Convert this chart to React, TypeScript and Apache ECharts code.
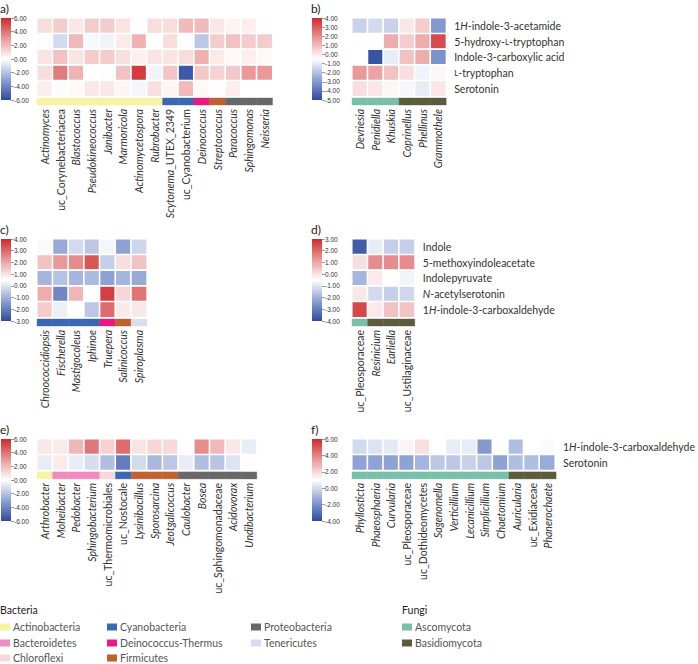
import React, { useEffect, useRef } from "react";
import * as echarts from "echarts";

// ---------- data ----------
const rowsAB = ["1H-indole-3-acetamide", "5-hydroxy-L-tryptophan", "Indole-3-carboxylic acid", "L-tryptophan", "Serotonin"];
const rowsCD = ["Indole", "5-methoxyindoleacetate", "Indolepyruvate", "N-acetylserotonin", "1H-indole-3-carboxaldehyde"];
const rowsEF = ["1H-indole-3-carboxaldehyde", "Serotonin"];

const colsA = ["Actinomyces", "uc_Corynebacteriacea", "Blastococcus", "Pseudokineococcus", "Janibacter", "Marmoricola", "Actinomycetospora", "Rubrobacter", "Scytonema_UTEX_2349", "uc_Cyanobacterium", "Deinococcus", "Streptococcus", "Paracoccus", "Sphingomonas", "Neisseria"];
const phylaA = ["Actinobacteria", "Actinobacteria", "Actinobacteria", "Actinobacteria", "Actinobacteria", "Actinobacteria", "Actinobacteria", "Actinobacteria", "Cyanobacteria", "Cyanobacteria", "Deinococcus-Thermus", "Firmicutes", "Proteobacteria", "Proteobacteria", "Proteobacteria"];
const valuesA = [
  [1.0, 1.5, 0.7, 1.5, 1.5, 0.8, 0.0, 1.0, 1.0, 2.0, 2.0, 0.7, 0.3, 0.5, 0.1],
  [0.1, -1.2, 2.0, -0.2, -0.4, 0.6, 2.2, 0.0, 1.0, 0.1, -1.8, 1.5, 1.8, 1.5, 1.5],
  [0.8, 1.8, 0.8, 1.5, 1.5, 0.9, 0.4, 0.8, 0.8, 1.0, 2.3, 0.6, 0.2, 0.5, 0.2],
  [1.0, 3.8, 2.2, 0.0, -0.05, 1.8, 5.5, -0.4, 1.7, -5.5, 1.6, 1.3, 1.6, 3.0, 3.0],
  [0.5, -0.1, 0.2, 0.7, 0.7, 0.3, -0.3, 0.9, 0.3, 2.0, 0.2, 0.1, 0.5, 0.0, 0.0],
];
const rangeA = [-6, 6, 2];

const colsB = ["Devriesia", "Penidiella", "Khuskia", "Coprinellus", "Phellinus", "Grammothele"];
const phylaB = ["Ascomycota", "Ascomycota", "Ascomycota", "Basidiomycota", "Basidiomycota", "Basidiomycota"];
const valuesB = [
  [-1.6, -1.4, -1.6, 0.0, 0.6, -3.0],
  [-0.5, -0.45, 1.3, 0.6, 1.3, 3.3],
  [-0.5, -4.8, -0.95, 0.85, 1.3, -3.2],
  [1.75, 1.5, 0.85, 0.2, -0.8, -0.3],
  [0.2, 0.05, -0.3, -0.7, -0.95, 0.05],
];
const rangeB = [-5, 4, 1];

const colsC = ["Chroococcidiopsis", "Fischerella", "Mastigocoleus", "Iphinoe", "Truepera", "Salinicoccus", "Spiroplasma"];
const phylaC = ["Cyanobacteria", "Cyanobacteria", "Cyanobacteria", "Cyanobacteria", "Deinococcus-Thermus", "Firmicutes", "Tenericutes"];
const valuesC = [
  [0.4, -1.1, -0.2, -0.55, 0.33, -1.25, -0.27],
  [1.55, 2.25, 2.45, 3.3, -0.4, 1.05, 1.55],
  [-0.9, -0.65, -0.9, -0.8, -1.25, -0.9, -1.1],
  [1.9, -1.8, 1.75, 0.5, 3.65, 1.2, 2.8],
  [1.4, 0.2, 0.5, -0.55, 2.95, 0.85, 0.9],
];
const rangeC = [-3, 4, 1];

const colsD = ["uc_Pleosporaceae", "Resinicium", "Earliella", "uc_Ustilaginaceae"];
const phylaD = ["Ascomycota", "Basidiomycota", "Basidiomycota", "Basidiomycota"];
const valuesD = [
  [-3.65, -0.85, -1.4, -1.4],
  [0.05, 1.45, 1.45, 1.45],
  [-1.9, -0.15, -0.5, -0.7],
  [-0.1, -1.2, -1.4, -1.25],
  [2.5, -0.15, 0.55, 0.5],
];
const rangeD = [-4, 3, 1];

const colsE = ["Arthrobacter", "Moheibacter", "Pedobacter", "Sphingobacterium", "uc_Thermomicrobiales", "uc_Nostocale", "Lysinibacillus", "Sporosarcina", "Jeotgalicoccus", "Caulobacter", "Bosea", "uc_Sphingomonadaceae", "Acidovorax", "Undibacterium"];
const phylaE = ["Actinobacteria", "Bacteroidetes", "Bacteroidetes", "Bacteroidetes", "Chloroflexi", "Cyanobacteria", "Firmicutes", "Firmicutes", "Firmicutes", "Proteobacteria", "Proteobacteria", "Proteobacteria", "Proteobacteria", "Proteobacteria"];
const valuesE = [
  [0.7, 0.6, 2.1, 3.9, 1.3, 4.2, 0.8, 1.2, 1.1, 0.1, 3.3, 2.0, 0.7, -0.6],
  [-0.6, 0.6, -0.6, -1.1, -2.1, -4.3, -1.2, -2.3, -1.8, -0.6, -2.1, -1.9, -0.9, 0.1],
];
const rangeE = [-6, 6, 2];

const colsF = ["Phyllosticta", "Phaeosphaeria", "Curvularia", "uc_Pleosporaceae", "uc_Dothideomycetes", "Sagenomella", "Verticillium", "Lecanicillium", "Simplicillium", "Chaetomium", "Auricularia", "uc_Exidiaceae", "Phanerochaete"];
const phylaF = ["Ascomycota", "Ascomycota", "Ascomycota", "Ascomycota", "Ascomycota", "Ascomycota", "Ascomycota", "Ascomycota", "Ascomycota", "Ascomycota", "Basidiomycota", "Basidiomycota", "Basidiomycota"];
const valuesF = [
  [0.0, 0.25, 0.4, 1.25, 1.75, 1.0, 0.5, 0.5, -1.75, 1.0, -0.75, 1.0, 0.9],
  [-1.5, -1.5, -1.5, -1.5, -1.0, -0.5, -0.5, -0.25, -0.5, -1.5, -0.75, -0.75, -1.25],
];
const rangeF = [-4, 6, 2];

const legendBacteria = [
  ["Actinobacteria", "Bacteroidetes", "Chloroflexi"],
  ["Cyanobacteria", "Deinococcus-Thermus", "Firmicutes"],
  ["Proteobacteria", "Tenericutes"],
];
const legendFungi = ["Ascomycota", "Basidiomycota"];

// ---------- styles ----------
const PHYLUM_COLORS: Record<string, string> = {
  "Actinobacteria": "#f6f3a2",
  "Bacteroidetes": "#f08bbf",
  "Chloroflexi": "#f8d8da",
  "Cyanobacteria": "#3a68b3",
  "Deinococcus-Thermus": "#e81a80",
  "Firmicutes": "#bf6230",
  "Proteobacteria": "#686868",
  "Tenericutes": "#d7deef",
  "Ascomycota": "#79bfa9",
  "Basidiomycota": "#5c5c3c",
};
const CMAP = ["#2e4b9e", "#8ea2d4", "#ffffff", "#ea9898", "#cd2a2c"];
const CELL = 15.7;
const FONT = "Lato, 'Noto Sans', sans-serif";

function colLabel(name: string) {
  if (name.startsWith("uc_")) return `{n|${name}}`;
  const k = name.indexOf("_");
  if (k > 0) return `{i|${name.slice(0, k)}}{n|${name.slice(k)}}`;
  return `{i|${name}}`;
}

function rowLabel(name: string) {
  if (name.startsWith("1H-")) return `{n|1}{i|H}{n|${name.slice(2)}}`;
  if (name.startsWith("N-")) return `{i|N}{n|${name.slice(1)}}`;
  const m = name.indexOf("L-");
  if (m >= 0 && (m === 0 || name[m - 1] === "-")) {
    const pre = name.slice(0, m);
    return `${pre ? `{n|${pre}}` : ""}{sc|L}{n|${name.slice(m + 1)}}`;
  }
  return `{n|${name}}`;
}

const panels = [
  { letter: "a)", cols: colsA, rows: rowsAB, values: valuesA, phyla: phylaA, range: rangeA, left: 37, top: 18, cb: 1, rowLabels: false },
  { letter: "b)", cols: colsB, rows: rowsAB, values: valuesB, phyla: phylaB, range: rangeB, left: 352, top: 18, cb: 312, rowLabels: true },
  { letter: "c)", cols: colsC, rows: rowsCD, values: valuesC, phyla: phylaC, range: rangeC, left: 37, top: 239, cb: 1, rowLabels: false },
  { letter: "d)", cols: colsD, rows: rowsCD, values: valuesD, phyla: phylaD, range: rangeD, left: 352, top: 239, cb: 312, rowLabels: true },
  { letter: "e)", cols: colsE, rows: rowsEF, values: valuesE, phyla: phylaE, range: rangeE, left: 37, top: 439, cb: 1, rowLabels: false },
  { letter: "f)", cols: colsF, rows: rowsEF, values: valuesF, phyla: phylaF, range: rangeF, left: 352, top: 439, cb: 312, rowLabels: true },
];

function buildOption() {
  const grid: any[] = [];
  const xAxis: any[] = [];
  const yAxis: any[] = [];
  const series: any[] = [];
  const visualMap: any[] = [];
  const graphic: any[] = [];

  panels.forEach((p) => {
    const nC = p.cols.length;
    const nR = p.rows.length;
    const w = nC * CELL;
    const h = nR * CELL;
    const [min, max, interval] = p.range;
    const g0 = grid.length;
    grid.push({ left: p.left, top: p.top, width: w, height: h });
    grid.push({ left: p.left, top: p.top + h + 1.5, width: w, height: 7 });
    grid.push({ left: p.cb, top: p.top, width: 10, height: 82 });

    xAxis.push({ gridIndex: g0, type: "category", data: p.cols, show: false });
    yAxis.push({
      gridIndex: g0, type: "category", data: p.rows, inverse: true, position: "right",
      axisLine: { show: false }, axisTick: { show: false }, splitLine: { show: false },
      axisLabel: {
        show: p.rowLabels, margin: 8, formatter: (v: string) => rowLabel(v),
        rich: {
          n: { fontFamily: FONT, fontSize: 10.5, color: "#333" },
          i: { fontFamily: FONT, fontSize: 10.5, color: "#333", fontStyle: "italic" },
          sc: { fontFamily: FONT, fontSize: 8, color: "#333" },
        },
      },
    });
    xAxis.push({
      gridIndex: g0 + 1, type: "category", data: p.cols,
      axisLine: { show: false }, axisTick: { show: false },
      axisLabel: {
        rotate: 90, interval: 0, margin: 4, formatter: (v: string) => colLabel(v),
        rich: {
          n: { fontFamily: FONT, fontSize: 10.5, color: "#333" },
          i: { fontFamily: FONT, fontSize: 10.5, color: "#333", fontStyle: "italic" },
        },
      },
    });
    yAxis.push({ gridIndex: g0 + 1, type: "category", data: ["s"], show: false });
    xAxis.push({ gridIndex: g0 + 2, type: "category", data: ["c"], show: false });
    yAxis.push({
      gridIndex: g0 + 2, type: "value", min, max, interval, position: "right",
      axisLine: { show: false },
      axisTick: { show: true, length: 3, lineStyle: { color: "#555", width: 0.6 } },
      splitLine: { show: false },
      axisLabel: { fontSize: 6.5, margin: 3, color: "#333", fontFamily: "'Liberation Sans', Arial, sans-serif", formatter: (v: number) => v.toFixed(2) },
    });

    const heatIdx = series.length;
    const data: number[][] = [];
    p.values.forEach((row, r) => row.forEach((v, c) => data.push([c, r, v])));
    series.push({
      type: "heatmap", xAxisIndex: g0, yAxisIndex: g0, data,
      itemStyle: { borderColor: "#ffffff", borderWidth: 1.6 },
      emphasis: { disabled: true },
    });
    visualMap.push({ type: "continuous", show: false, min, max, dimension: 2, seriesIndex: heatIdx, inRange: { color: CMAP } });

    const phyla = p.phyla;
    series.push({
      type: "custom", xAxisIndex: g0 + 1, yAxisIndex: g0 + 1,
      data: phyla.map((_, i) => [i, 0]),
      renderItem: (params: any, api: any) => {
        const c = api.coord([api.value(0), 0]);
        const sz = api.size([1, 1]);
        const col = PHYLUM_COLORS[phyla[params.dataIndex]];
        return {
          type: "rect",
          shape: { x: c[0] - sz[0] / 2, y: c[1] - sz[1] / 2, width: sz[0], height: sz[1] },
          style: { fill: col, stroke: col, lineWidth: 0.4 },
        };
      },
    });
    series.push({
      type: "custom", xAxisIndex: g0 + 2, yAxisIndex: g0 + 2,
      data: [[0, min]],
      renderItem: (params: any) => {
        const cs = params.coordSys;
        return {
          type: "rect",
          shape: { x: cs.x, y: cs.y, width: cs.width, height: cs.height },
          style: {
            fill: new echarts.graphic.LinearGradient(0, 0, 0, 1, [
              { offset: 0, color: CMAP[4] },
              { offset: 0.25, color: CMAP[3] },
              { offset: 0.5, color: CMAP[2] },
              { offset: 0.75, color: CMAP[1] },
              { offset: 1, color: CMAP[0] },
            ]),
          },
        };
      },
    });

    graphic.push({
      type: "text", left: p.cb - 1, top: p.top - 16,
      style: { text: p.letter, fontFamily: FONT, fontSize: 12, fill: "#222" },
    });
  });

  // legend
  const rowY = [627, 643, 658];
  const colX = [0, 107, 251];
  graphic.push({ type: "text", left: 0, top: 604, style: { text: "Bacteria", fontFamily: FONT, fontSize: 10.5, fill: "#222" } });
  legendBacteria.forEach((col, ci) => {
    col.forEach((name, ri) => {
      graphic.push({ type: "rect", shape: { x: colX[ci], y: rowY[ri] - 3.5, width: 10, height: 7 }, style: { fill: PHYLUM_COLORS[name] } });
      graphic.push({ type: "text", x: colX[ci] + 13, y: rowY[ri], style: { text: name, fontFamily: FONT, fontSize: 10.5, fill: "#555", verticalAlign: "middle" } });
    });
  });
  const fx = 402;
  graphic.push({ type: "text", left: fx, top: 604, style: { text: "Fungi", fontFamily: FONT, fontSize: 10.5, fill: "#222" } });
  legendFungi.forEach((name, ri) => {
    graphic.push({ type: "rect", shape: { x: fx, y: rowY[ri] - 3.5, width: 10, height: 7 }, style: { fill: PHYLUM_COLORS[name] } });
    graphic.push({ type: "text", x: fx + 13, y: rowY[ri], style: { text: name, fontFamily: FONT, fontSize: 10.5, fill: "#555", verticalAlign: "middle" } });
  });

  return { animation: false, backgroundColor: "#ffffff", grid, xAxis, yAxis, series, visualMap, graphic };
}

export default function App() {
  const ref = useRef<HTMLDivElement>(null);
  useEffect(() => {
    if (!ref.current) return;
    const chart = echarts.init(ref.current, undefined, { renderer: "svg" });
    chart.setOption(buildOption() as any);
    return () => chart.dispose();
  }, []);
  return <div ref={ref} style={{ position: "absolute", left: 0, top: 0, width: 698, height: 664 }} />;
}
